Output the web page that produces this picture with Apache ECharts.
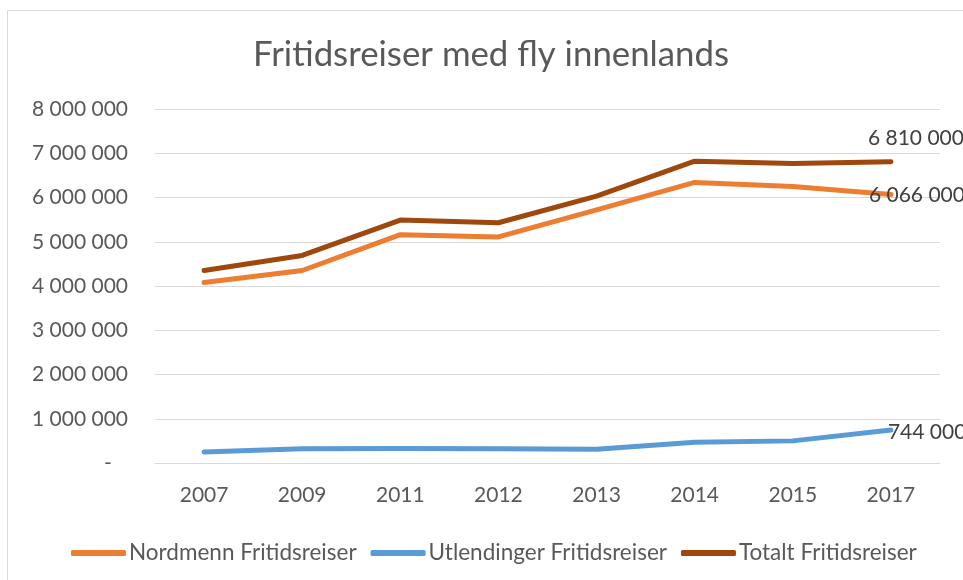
<!DOCTYPE html>
<html><head><meta charset="utf-8">
<script src="https://cdn.jsdelivr.net/npm/echarts@6/dist/echarts.min.js"></script>
<style>html,body{margin:0;padding:0;background:#fff}#c{width:963px;height:580px}</style>
</head><body><div id="c"></div>
<script>
const categories = ['2007','2009','2011','2012','2013','2014','2015','2017'];
const nordmenn = [4080000,4350000,5160000,5110000,5720000,6340000,6250000,6066000];
const utlendinger = [250000,320000,330000,320000,310000,470000,500000,744000];
const totalt = [4350000,4690000,5490000,5430000,6030000,6820000,6770000,6810000];
const seriesNames = ['Nordmenn Fritidsreiser','Utlendinger Fritidsreiser','Totalt Fritidsreiser'];
const title = 'Fritidsreiser med fly innenlands';

const FONT = 'Lato';
function fmt(v){ if(v===0) return '-   '; return String(Math.round(v)).replace(/\B(?=(\d{3})+(?!\d))/g,' '); }
function withLastLabel(arr, offset){
  return arr.map((v,i)=> i===arr.length-1 ? {value:v, label:{show:true, offset:offset}} : v);
}
function mk(name, data, color, off){
  return {
    name, type:'line', data: withLastLabel(data, off),
    symbol:'circle', symbolSize:2, showSymbol:true,
    lineStyle:{width:5, color, cap:'round', join:'round'},
    itemStyle:{color},
    label:{show:false, position:'right', distance:0, formatter:p=>fmt(p.value),
      fontFamily:FONT, fontSize:21, color:'#404040'},
    emphasis:{disabled:true}, animation:false
  };
}
const chart = echarts.init(document.getElementById('c'));
chart.setOption({
  animation:false,
  graphic:[{type:'rect', shape:{x:7.5,y:10.5,width:970,height:580}, style:{fill:'none',stroke:'#d9d9d9',lineWidth:1}, silent:true}],
  title:{text:title, left:253, top:37, padding:0, textStyle:{fontFamily:FONT, fontSize:34.8, fontWeight:'normal', color:'#595959'}},
  grid:{left:155, right:23, top:109, bottom:117},
  legend:{top:536, left:66, itemWidth:55, itemHeight:6, itemGap:14, icon:'roundRect',
    textStyle:{fontFamily:FONT, fontSize:22.5, lineHeight:24, color:'#595959', padding:[0,0,0,-2]}, data:seriesNames},
  xAxis:{type:'category', data:categories, boundaryGap:true,
    axisLine:{lineStyle:{color:'#d9d9d9', width:1}}, axisTick:{show:false},
    axisLabel:{fontFamily:FONT, fontSize:21, color:'#595959', margin:22}},
  yAxis:{type:'value', min:0, max:8000000, interval:1000000,
    axisLine:{show:false}, axisTick:{show:false},
    splitLine:{lineStyle:{color:'#d9d9d9', width:1}},
    axisLabel:{fontFamily:FONT, fontSize:21, color:'#595959', margin:27, formatter:v=>fmt(v)}},
  series:[
    mk(seriesNames[0], nordmenn, '#ED7D31', [-23,1]),
    mk(seriesNames[1], utlendinger, '#5B9BD5', [-4,2]),
    mk(seriesNames[2], totalt, '#9E480E', [-24,-23])
  ]
});
</script></body></html>
